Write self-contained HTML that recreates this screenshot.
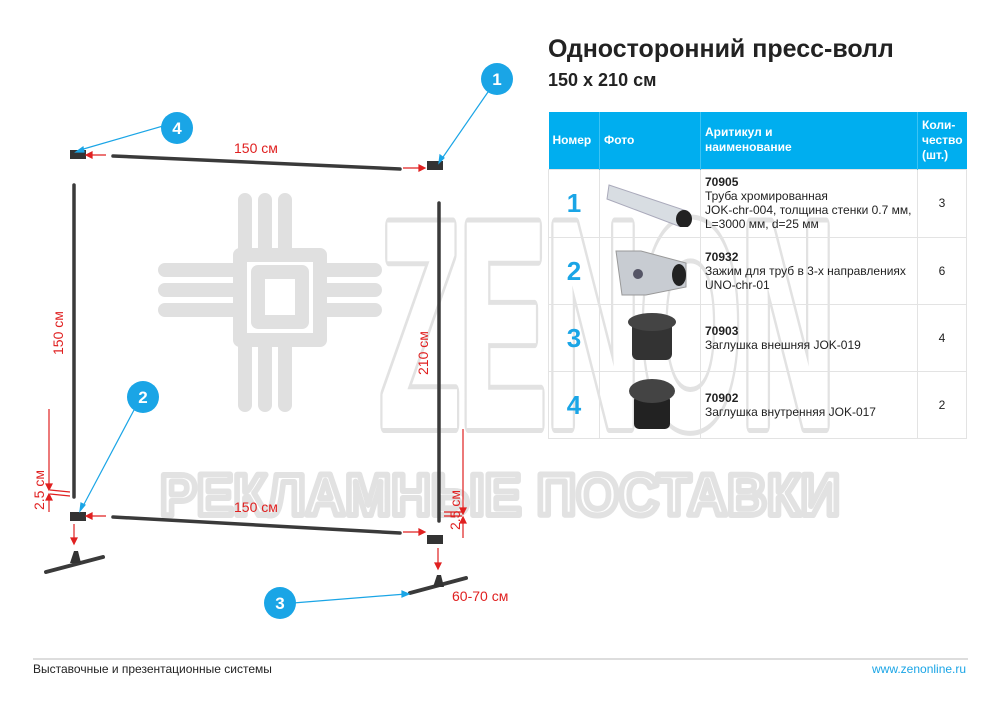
<!DOCTYPE html>
<html><head><meta charset="utf-8"><style>
body{margin:0;width:1000px;height:707px;background:#fff;position:relative;overflow:hidden;font-family:"Liberation Sans",sans-serif}
.t{position:absolute}
table{position:absolute;left:548px;top:112px;border-collapse:collapse;table-layout:fixed;width:418px;font-size:12px;line-height:14px;color:#222}
td{border:1px solid #e3e3e3;vertical-align:middle;padding:0 4px;background:transparent;overflow:hidden}
th{background:#00aeef;color:#fff;text-align:left;font-size:12px;font-weight:bold;padding:0 4px;border-right:1px solid #3cc3f4;line-height:15px}
.n{color:#1aa5e6;font-size:26px;font-weight:bold;text-align:center}
</style></head><body>
<svg class="t" style="left:0;top:0" width="1000" height="707">
<g fill="#fff" stroke="#e2e2e2" stroke-width="16" stroke-linejoin="round" font-family="Liberation Sans" font-weight="bold">
<text x="380" y="425" font-size="290" textLength="455" lengthAdjust="spacingAndGlyphs">ZENON</text>
<text x="160" y="515" font-size="58" stroke-width="6" textLength="680" lengthAdjust="spacingAndGlyphs">РЕКЛАМНЫЕ ПОСТАВКИ</text>
</g>
<g fill="#fff" stroke="#e2e2e2" stroke-width="10" font-family="Liberation Sans" font-weight="bold">
<text x="380" y="425" font-size="290" textLength="455" lengthAdjust="spacingAndGlyphs" stroke="#fff" stroke-width="6">ZENON</text>
</g>
<g fill="none" stroke="#e0e0e0" stroke-width="14" stroke-linecap="round" stroke-linejoin="round">
<rect x="240" y="255" width="80" height="85"/><rect x="258" y="272" width="44" height="50"/>
<path d="M245 200v55M265 200v55M285 200v55M245 345v60M265 345v60M285 345v60M165 270h70M165 290h70M165 310h70M325 270h50M325 290h50M325 310h50"/>
</g>
<g stroke="#3a3a3a" stroke-linecap="round">
<line x1="113" y1="156" x2="400" y2="169" stroke-width="3.5"/>
<line x1="113" y1="517" x2="400" y2="533" stroke-width="3.5"/>
<line x1="74" y1="185" x2="74" y2="497" stroke-width="3.5"/>
<line x1="439" y1="203" x2="439" y2="521" stroke-width="3.5"/>
<line x1="46" y1="572" x2="103" y2="557" stroke-width="4"/>
<line x1="410" y1="593" x2="466" y2="578" stroke-width="4"/>
</g>
<g fill="#333"><rect x="70" y="150" width="16" height="9"/><rect x="427" y="161" width="16" height="9"/><rect x="70" y="512" width="16" height="9"/><rect x="427" y="535" width="16" height="9"/>
<path d="M70 563l4-12h4l3 12z"/><path d="M433 587l4-12h4l3 12z"/></g>
<g stroke="#e02020" stroke-width="1.2" fill="#e02020">
<line x1="88" y1="155" x2="106" y2="155"/><path d="M86 155l6-3v6z"/>
<line x1="403" y1="168" x2="421" y2="168"/><path d="M425 168l-6-3v6z"/>
<line x1="88" y1="516" x2="106" y2="516"/><path d="M86 516l6-3v6z"/>
<line x1="403" y1="532" x2="421" y2="532"/><path d="M425 532l-6-3v6z"/>
<line x1="49" y1="409" x2="49" y2="487"/><path d="M49 490l-3-6h6z"/>
<path d="M49 494l-3 6h6z"/><line x1="49" y1="500" x2="49" y2="512"/>
<line x1="50" y1="490" x2="70" y2="492"/><line x1="50" y1="494" x2="70" y2="496"/>
<line x1="74" y1="524" x2="74" y2="540"/><path d="M74 544l-3-6h6z"/>
<line x1="463" y1="429" x2="463" y2="510"/><path d="M463 514l-3-6h6z"/>
<line x1="463" y1="520" x2="463" y2="538"/><path d="M463 517l-3 6h6z"/>
<line x1="444" y1="512" x2="462" y2="512"/><line x1="444" y1="516" x2="462" y2="516"/>
<line x1="438" y1="548" x2="438" y2="565"/><path d="M438 569l-3-6h6z"/>
</g>
<g fill="#e02020" font-size="14">
<text x="234" y="153">150 см</text><text x="234" y="512">150 см</text>
<text x="452" y="601">60-70 см</text>
<text transform="translate(63,355) rotate(-90)">150 см</text>
<text transform="translate(428,375) rotate(-90)">210 см</text>
<text transform="translate(44,510) rotate(-90)">2.5 см</text>
<text transform="translate(460,530) rotate(-90)">2.5 см</text>
</g>
<g stroke="#1aa5e6" stroke-width="1.2" fill="#1aa5e6">
<line x1="163" y1="126" x2="80" y2="150"/><path d="M76 152l7-5 1 5z"/>
<line x1="488" y1="92" x2="441" y2="160"/><path d="M439 163l1-8 4 3z"/>
<line x1="134" y1="410" x2="82" y2="508"/><path d="M80 511l1-8 4 2z"/>
<line x1="293" y1="603" x2="406" y2="594"/><path d="M409 594l-7-3v6z"/>
</g>
<g fill="#1aa5e6"><circle cx="497" cy="79" r="16"/><circle cx="177" cy="128" r="16"/><circle cx="143" cy="397" r="16"/><circle cx="280" cy="603" r="16"/></g>
<g fill="#fff" font-size="17" font-weight="bold" text-anchor="middle"><text x="497" y="85">1</text><text x="177" y="134">4</text><text x="143" y="403">2</text><text x="280" y="609">3</text></g>
<line x1="33" y1="659" x2="968" y2="659" stroke="#bbb" stroke-width="1"/>
</svg>
<div class="t" style="left:548px;top:35px;font-size:25px;font-weight:bold;color:#222">Односторонний пресс-волл</div>
<div class="t" style="left:548px;top:70px;font-size:18px;font-weight:bold;color:#222">150 x 210 см</div>
<table>
<colgroup><col style="width:51px"><col style="width:101px"><col style="width:217px"><col style="width:49px"></colgroup>
<tr style="height:57px"><th>Номер</th><th>Фото</th><th>Аритикул и<br>наименование</th><th style="border-right:0">Коли-<br>чество<br>(шт.)</th></tr>
<tr style="height:68px"><td class="n">1</td><td><svg width="90" height="50"><path d="M5 8l78 26-6 16L3 22z" fill="#d8dde2" stroke="#aab"/><ellipse cx="80" cy="42" rx="8" ry="9" fill="#222"/></svg></td><td><b>70905</b><br>Труба хромированная<br>JOK-chr-004, толщина стенки 0.7 мм,<br>L=3000 мм, d=25 мм</td><td style="text-align:center">3</td></tr>
<tr style="height:67px"><td class="n">2</td><td><svg width="90" height="56"><path d="M12 10h25l45 12v24l-40 8H18z" fill="#c8ccd2" stroke="#999"/><ellipse cx="75" cy="34" rx="7" ry="11" fill="#222"/><circle cx="34" cy="33" r="5" fill="#556"/></svg></td><td><b>70932</b><br>Зажим для труб в 3-х направлениях<br>UNO-chr-01</td><td style="text-align:center">6</td></tr>
<tr style="height:67px"><td class="n">3</td><td><svg width="90" height="56"><rect x="28" y="14" width="40" height="38" rx="6" fill="#333"/><ellipse cx="48" cy="14" rx="24" ry="9" fill="#444"/></svg></td><td><b>70903</b><br>Заглушка внешняя JOK-019</td><td style="text-align:center">4</td></tr>
<tr style="height:67px"><td class="n">4</td><td><svg width="90" height="60"><rect x="30" y="22" width="36" height="34" rx="5" fill="#222"/><ellipse cx="48" cy="18" rx="23" ry="12" fill="#444"/></svg></td><td><b>70902</b><br>Заглушка внутренняя JOK-017</td><td style="text-align:center">2</td></tr>
</table>
<div class="t" style="left:33px;top:662px;font-size:12px;color:#222">Выставочные и презентационные системы</div>
<div class="t" style="left:872px;top:662px;font-size:12px;color:#1aa5e6">www.zenonline.ru</div>
</body></html>
